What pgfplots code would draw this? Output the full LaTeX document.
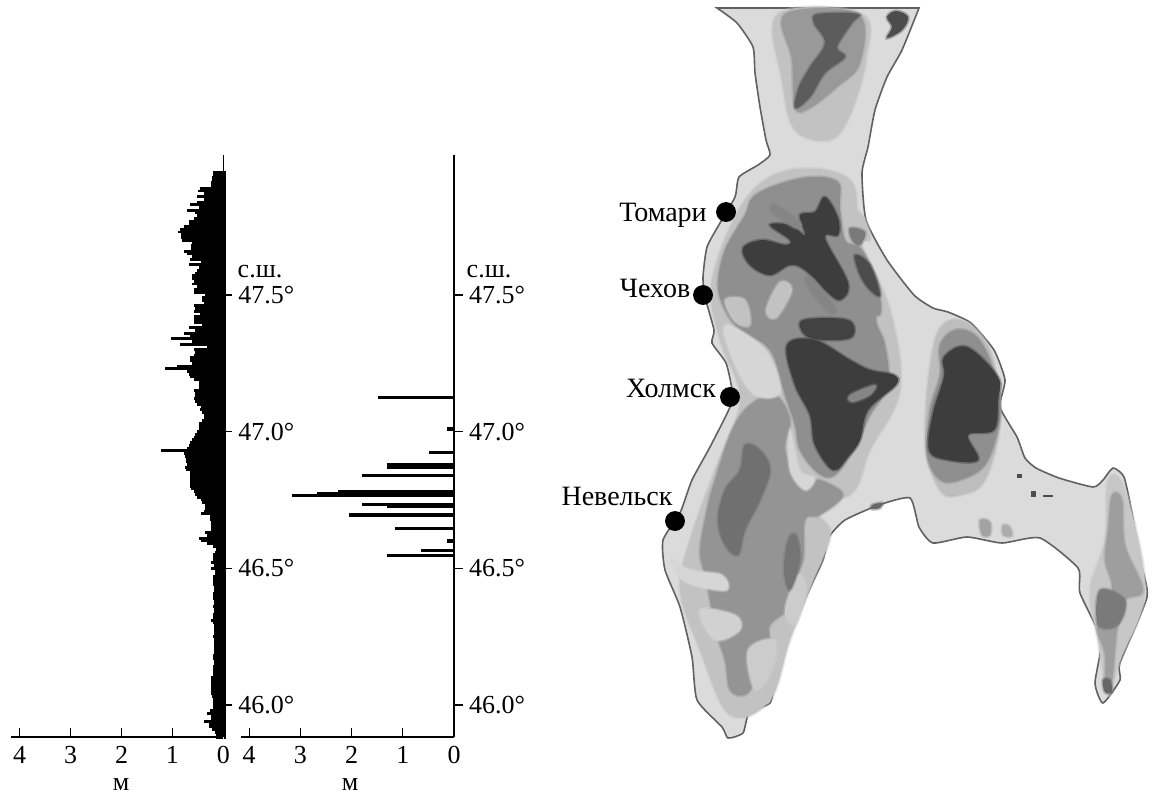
\documentclass[border=0pt]{standalone}
\usepackage{fontspec}
\setmainfont{Liberation Serif}
\usepackage{pgfplots}
\usepackage{pgfplotstable}
\pgfplotsset{compat=1.18}
\newcommand{\lbl}{\fontsize{13}{15}\selectfont}
\newcommand{\city}{\fontsize{14}{16}\selectfont}

% wave heights along the coast, lat amp
\pgfplotstableread{
lat amp
47.95 .20
47.94 .20
47.93 .22
47.92 .22
47.91 .25
47.90 .25
47.89 .46
47.88 .50
47.87 .38
47.86 .52
47.85 .38
47.84 .52
47.83 .65
47.82 .48
47.81 .71
47.80 .55
47.79 .52
47.78 .58
47.77 .68
47.76 .68
47.75 .78
47.74 .86
47.73 .89
47.72 .84
47.71 .83
47.70 .81
47.69 .62
47.68 .64
47.67 .64
47.66 .78
47.65 .71
47.64 .62
47.63 .66
47.62 .45
47.61 .68
47.60 .49
47.59 .52
47.58 .55
47.57 .62
47.56 .62
47.55 .58
47.54 .62
47.53 .52
47.52 .58
47.51 .58
47.50 .36
47.49 .42
47.48 .42
47.47 .39
47.46 .58
47.45 .55
47.44 .58
47.43 .47
47.42 .58
47.41 .58
47.40 .58
47.39 .42
47.38 .68
47.37 .55
47.36 .78
47.35 .65
47.34 1.02
47.33 .62
47.32 .86
47.31 .33
47.30 .58
47.29 .55
47.28 .58
47.27 .65
47.26 .65
47.25 .62
47.24 .91
47.23 1.15
47.22 .71
47.21 .68
47.20 .65
47.19 .58
47.18 .49
47.17 .49
47.16 .49
47.15 .58
47.14 .55
47.13 .55
47.12 .58
47.11 .55
47.10 .52
47.09 .44
47.08 .46
47.07 .42
47.06 .39
47.05 .39
47.04 .42
47.03 .49
47.02 .49
47.01 .49
47.00 .52
46.99 .55
46.98 .58
46.97 .62
46.96 .66
46.95 .68
46.94 .71
46.93 1.23
46.92 .78
46.91 .75
46.90 .73
46.89 .73
46.88 .71
46.87 .75
46.86 .73
46.85 .66
46.84 .66
46.83 .66
46.82 .66
46.81 .66
46.80 .66
46.79 .64
46.78 .58
46.77 .55
46.76 .52
46.75 .44
46.74 .42
46.73 .36
46.72 .36
46.71 .39
46.70 .45
46.69 .27
46.68 .26
46.67 .25
46.66 .25
46.65 .25
46.64 .25
46.63 .36
46.62 .32
46.61 .49
46.60 .45
46.59 .33
46.58 .20
46.57 .14
46.56 .16
46.55 .21
46.54 .20
46.53 .20
46.52 .25
46.51 .18
46.50 .25
46.49 .17
46.48 .17
46.47 .21
46.46 .21
46.45 .21
46.44 .21
46.43 .18
46.42 .18
46.41 .20
46.40 .20
46.39 .20
46.38 .18
46.37 .18
46.36 .20
46.35 .18
46.34 .18
46.33 .20
46.32 .20
46.31 .25
46.30 .20
46.29 .18
46.28 .18
46.27 .18
46.26 .18
46.25 .20
46.24 .18
46.23 .18
46.22 .18
46.21 .18
46.20 .18
46.19 .18
46.18 .20
46.17 .20
46.16 .18
46.15 .18
46.14 .20
46.13 .20
46.12 .20
46.11 .20
46.10 .25
46.09 .25
46.08 .25
46.07 .25
46.06 .25
46.05 .25
46.04 .25
46.03 .23
46.02 .20
46.01 .20
46.00 .20
45.99 .20
45.98 .26
45.97 .33
45.96 .25
45.95 .25
45.94 .38
45.93 .29
45.92 .29
45.91 .23
45.90 .17
45.89 .14
45.88 .14
}\waves

\pgfplotstableread{
lat amp
47.124 1.49
47.01 0.14
46.923 0.48
46.88 1.30
46.87 1.30
46.84 1.79
46.781 2.26
46.775 2.67
46.767 3.17
46.734 1.79
46.726 1.30
46.695 2.06
46.645 1.16
46.60 0.14
46.564 0.65
46.546 1.30
}\runup

\pgfplotsset{
  panel/.style={
    scale only axis, height=291pt, clip=false,
    x dir=reverse, xmin=0,
    ymin=45.883, ymax=48.012,
    axis x line=bottom, axis y line=right,
    axis line style={-, line width=.65pt, black},
    tick style={black, line width=.65pt},
    major tick length=4.3pt,
    xtick={0,1,2,3,4}, xticklabels={0,1,2,3,4},
    ytick={46,46.5,47,47.5},
    yticklabels={46.0°,46.5°,47.0°,47.5°},
    tick label style={font=\lbl},
    yticklabel style={inner sep=0pt, xshift=3pt},
    xticklabel style={inner sep=0pt, yshift=-4.5pt},
    xtick align=inside, ytick align=outside,
  },
  land/.style={fill=black!#1, draw=black!#1, draw opacity=.4, line width=1.6pt, smooth cycle, tension=.6},
}

\begin{document}
\begin{tikzpicture}
\path[use as bounding box] (0,0) rectangle (576pt,397pt);

% map and captions in picture pixels
\begin{axis}[
  at={(0pt,0pt)}, anchor=south west, scale only axis,
  width=576pt, height=397pt, hide axis, clip=false,
  xmin=0, xmax=1152, ymin=0, ymax=794, y dir=reverse,
]
% island outline
\addplot[fill=black!14, draw=black!62, line width=.8pt, smooth, tension=.35] coordinates {
(717,8)(737,23)(753,47)(755,73)(760,107)(766,140)(770,155)(758,165)(739,177)(735,197)
(720,223)(707,247)(703,277)(705,297)(714,330)(712,343)(726,363)(732,390)(730,407)
(710,447)(692,480)(680,513)(663,540)(665,570)(680,607)(692,657)(697,700)(722,727)
(728,738)(743,733)(749,713)(770,703)(776,680)(791,633)(806,597)(823,560)(829,537)
(845,520)(879,505)(910,498)(919,527)(933,543)(967,537)(1002,543)(1040,538)(1078,568)
(1080,593)(1101,640)(1095,683)(1103,703)(1120,680)(1120,663)(1147,597)(1140,560)(1132,513)
(1124,477)(1113,468)(1103,480)(1093,487)(1059,478)(1036,468)(1025,458)(1017,437)
(1000,407)(1005,380)(994,350)(971,323)(948,312)(933,308)(914,295)(887,260)(866,220)
(862,173)(868,147)(875,110)(887,77)(902,50)(919,8)
} -- cycle;

% lighter grey shading
\addplot[land=24] coordinates {(745,200)(790,170)(850,180)(860,240)(890,310)(900,390)(870,450)(850,495)(800,500)(830,530)(815,575)(790,640)(770,700)(730,715)(700,650)(680,590)(690,540)(715,470)(740,400)(720,340)(712,280)};
\addplot[land=24] coordinates {(778,14)(862,14)(866,60)(850,115)(830,140)(795,130)(782,80)};
\addplot[land=26] coordinates {(935,340)(960,320)(990,350)(1000,420)(985,480)(960,495)(940,490)(925,440)};
\addplot[land=22] coordinates {(1108,480)(1125,490)(1145,590)(1120,660)(1108,695)(1098,640)(1090,590)(1105,540)};

% mid grey ranges
\addplot[land=44] coordinates {(753,197)(776,185)(810,177)(838,182)(840,205)(845,240)(862,250)(880,290)(876,320)(885,345)(888,385)(870,415)(856,445)(835,475)(818,473)(800,450)(795,425)(785,395)(770,350)(740,330)(725,310)(718,285)(725,250)(745,215)};
\addplot[land=42] coordinates {(750,405)(775,395)(790,420)(785,450)(800,480)(820,480)(843,495)(820,515)(805,520)(803,560)(790,590)(795,605)(770,625)(770,650)(750,665)(755,680)(745,695)(730,690)(725,660)(715,630)(710,600)(705,575)(700,550)(708,505)(715,480)(732,430)};
\addplot[land=40] coordinates {(785,14)(858,14)(860,63)(837,87)(810,108)(795,108)(792,60)};
\addplot[land=44] coordinates {(940,345)(955,330)(975,335)(990,360)(1000,400)(998,430)(985,465)(960,480)(940,480)(927,455)(930,410)(940,375)};
\addplot[land=38] coordinates {(1112,495)(1122,500)(1125,545)(1143,590)(1125,600)(1118,625)(1115,650)(1112,680)(1105,690)(1105,655)(1097,625)(1112,590)(1105,560)(1108,530)};
% pale bands across the ranges
\addplot[land=16] coordinates {(672,560)(690,570)(722,575)(727,590)(700,587)(680,578)};
\addplot[land=18] coordinates {(700,610)(735,615)(740,630)(715,640)};
\addplot[land=16] coordinates {(790,430)(800,470)(815,478)(805,490)(790,470)};
\addplot[land=16] coordinates {(725,325)(765,350)(780,392)(755,395)(735,365)};
\addplot[land=20] coordinates {(785,610)(798,575)(806,590)(795,625)};
\addplot[land=20] coordinates {(748,650)(775,640)(772,670)(755,690)};
\addplot[land=24] coordinates {(780,282)(792,290)(776,318)(766,310)};
\addplot[land=24] coordinates {(725,300)(745,300)(750,325)(735,322)};
\addplot[land=24] coordinates {(842,205)(862,215)(870,240)(850,232)};

% dark ridges
\addplot[land=64] coordinates {(818,14)(858,14)(852,23)(837,47)(845,57)(825,73)(810,97)(795,108)(799,87)(810,67)(825,43)(814,23)};
\addplot[land=70] coordinates {(896,11)(908,17)(902,30)(887,38)(892,27)(887,17)};
\addplot[land=76] coordinates {(825,197)(838,218)(838,235)(825,238)(848,283)(840,300)(825,290)(805,270)(790,265)(770,275)(750,265)(743,248)(762,240)(785,245)(790,240)(770,225)(790,225)(805,235)(800,215)(815,212)};
\addplot[land=74] coordinates {(803,320)(848,320)(852,337)(825,340)(805,335)};
\addplot[land=76] coordinates {(787,345)(815,340)(850,360)(870,370)(894,375)(896,385)(868,410)(860,440)(848,457)(833,470)(815,445)(810,415)(795,385)};
\addplot[land=76] coordinates {(944,357)(967,347)(998,377)(998,400)(994,430)(968,435)(978,460)(948,460)(929,450)(933,413)(944,377)};
% streaks through the dark ridges
\addplot[land=48] coordinates {(775,205)(800,222)(795,228)(772,212)};
\addplot[land=48] coordinates {(812,278)(835,308)(828,312)(806,284)};
\addplot[land=48] coordinates {(850,395)(875,385)(870,395)(852,402)};
% darker patches in the south and the small lakes
\addplot[land=56] coordinates {(745,445)(760,450)(770,470)(760,500)(745,530)(738,555)(725,545)(718,520)(725,490)(740,470)};
\addplot[land=54] coordinates {(788,540)(796,535)(800,560)(790,590)(784,570)};
\addplot[land=52] coordinates {(850,228)(865,232)(860,245)(852,240)};
\addplot[land=70] coordinates {(855,255)(870,265)(880,295)(870,290)(860,275)};
\addplot[land=44] coordinates {(870,300)(880,300)(880,315)(872,312)};
\addplot[land=52] coordinates {(1100,590)(1125,600)(1118,625)(1098,625)};
\addplot[land=60] coordinates {(1103,680)(1110,680)(1112,692)(1105,692)};
\addplot[land=36] coordinates {(980,520)(990,522)(990,535)(982,535)};
\addplot[land=32] coordinates {(1003,525)(1010,527)(1012,536)(1003,535)};
\addplot[land=60] coordinates {(872,505)(882,503)(880,508)(872,509)};
\addplot[fill=black!70, draw=none] coordinates {(1017,474)(1022,474)(1022,478)(1017,478)} -- cycle;
\addplot[fill=black!70, draw=none] coordinates {(1031,491)(1036,491)(1036,497)(1031,497)} -- cycle;
\addplot[fill=black!70, draw=none] coordinates {(1043,495)(1053,495)(1053,497)(1043,497)} -- cycle;

% ports
\addplot[only marks, mark=*, mark size=4.75pt, black] coordinates {(726,212)(703,295)(730,397)(675,521)};
\node[font=\city] at (axis cs:663,215.5) {Томари};
\node[font=\city] at (axis cs:655,288.5) {Чехов};
\node[font=\city] at (axis cs:671,388.5) {Холмск};
\node[font=\city] at (axis cs:617,496.5) {Невельск};
\node[font=\lbl] at (axis cs:260,272) {с.ш.};
\node[font=\lbl] at (axis cs:489,272) {с.ш.};
\node[font=\lbl] at (axis cs:121,785) {м};
\node[font=\lbl] at (axis cs:350,785) {м};
\end{axis}

% left panel
\begin{axis}[panel, at={(5.5pt,28.5pt)}, anchor=south west, width=106.25pt, xmax=4.167]
\addplot[xcomb, black, line width=1.4pt] table[x=amp, y=lat] {\waves};
\addplot[black, line width=1.1pt] coordinates {(-0.022,47.955)(-0.022,45.875)};
\end{axis}

% right panel
\begin{axis}[panel, at={(120.5pt,28.5pt)}, anchor=south west, width=106.5pt, xmax=4.16]
\addplot[xcomb, black, line width=1.6pt] table[x=amp, y=lat] {\runup};
\end{axis}
\end{tikzpicture}
\end{document}
